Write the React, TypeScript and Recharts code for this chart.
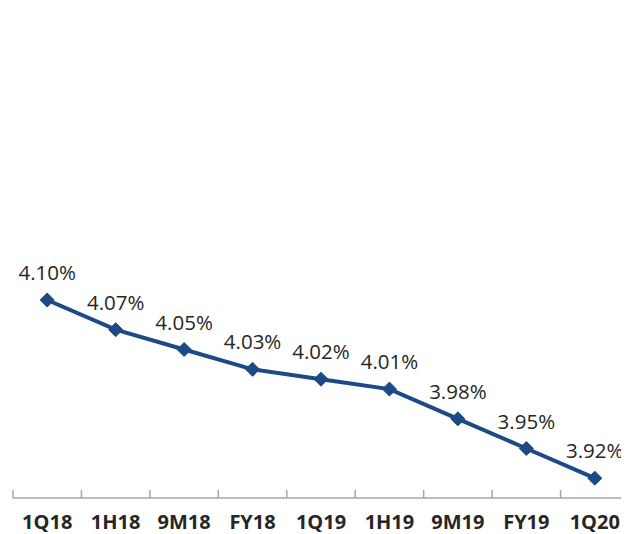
import React from "react";
import { LineChart, Line, XAxis, YAxis, LabelList } from "recharts";

const categories = ["1Q18", "1H18", "9M18", "FY18", "1Q19", "1H19", "9M19", "FY19", "1Q20"];
const values = [4.1, 4.07, 4.05, 4.03, 4.02, 4.01, 3.98, 3.95, 3.92];
const valueLabels = ["4.10%", "4.07%", "4.05%", "4.03%", "4.02%", "4.01%", "3.98%", "3.95%", "3.92%"];

const data = categories.map((c, i) => ({ x: i, name: c, value: values[i], label: valueLabels[i] }));
const centerTicks = categories.map((_, i) => i);
const boundaryTicks = [...categories.map((_, i) => i - 0.5), categories.length - 0.5];

const COLOR = "#1B4A86";

const Diamond = (props: any) => {
  const { cx, cy } = props;
  if (cx == null || cy == null) return null;
  const r = 7;
  return (
    <polygon
      points={`${cx},${cy - r} ${cx + r},${cy} ${cx},${cy + r} ${cx - r},${cy}`}
      fill={COLOR}
      stroke={COLOR}
      strokeWidth={1}
    />
  );
};

export default function App() {
  return (
    <div style={{ width: 621, height: 526 }}>
      <LineChart
        width={621}
        height={526}
        data={data}
        margin={{ top: 44.5, right: 0, bottom: 0, left: 5 }}
        style={{ overflow: "visible" }}
      >
        <XAxis
          xAxisId="c"
          type="number"
          dataKey="x"
          domain={[-0.5, 8.5]}
          ticks={centerTicks}
          interval={0}
          axisLine={false}
          tickLine={false}
          height={36}
          tickMargin={11}
          tickFormatter={(v: number) => categories[v] ?? ""}
          tick={{ fill: "#262626", fontSize: 20, fontWeight: 700, fontFamily: "Open Sans" }}
        />
        <XAxis
          xAxisId="b"
          type="number"
          dataKey="x"
          domain={[-0.5, 8.5]}
          ticks={boundaryTicks}
          tickFormatter={() => ""}
          mirror
          tickSize={8}
          height={1}
          axisLine={{ stroke: "#A6A6A6", strokeWidth: 1.5 }}
          tickLine={{ stroke: "#A6A6A6", strokeWidth: 1.5 }}
          interval={0}
        />
        <YAxis hide domain={[3.9, 4.35]} />
        <Line
          xAxisId="c"
          type="linear"
          dataKey="value"
          stroke={COLOR}
          strokeWidth={4}
          dot={<Diamond />}
          activeDot={false}
          isAnimationActive={false}
        >
          <LabelList
            dataKey="label"
            position="top"
            offset={20}
            style={{ fill: "#262626", fontSize: 20.5, fontFamily: "Open Sans" }}
          />
        </Line>
      </LineChart>
    </div>
  );
}
